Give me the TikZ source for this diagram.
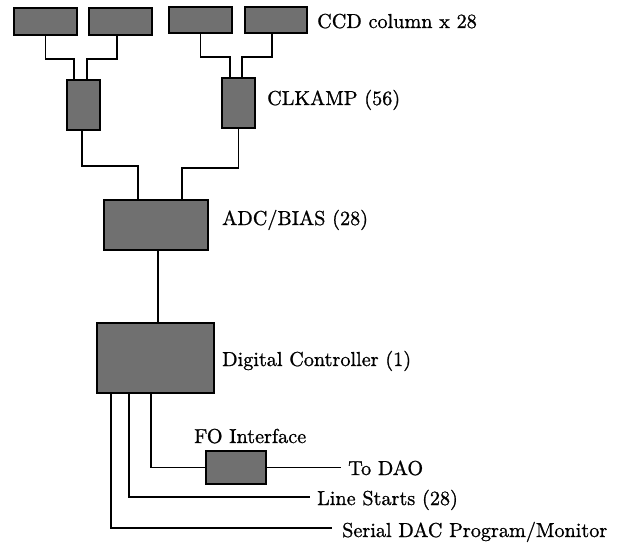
\documentclass[tikz,border=0pt]{standalone}
\usepackage{fontspec}
\newfontfamily\lmf{lmroman10-regular.otf}[FakeBold=1.0]
\definecolor{boxgray}{RGB}{112,112,112}
\begin{document}
\begin{tikzpicture}[x=1pt,y=-1pt,
  blk/.style={draw=black,line width=1.7pt,fill=boxgray,inner sep=0,outer sep=0},
  wire/.style={draw=black,line width=1.6pt},
  lbl/.style={anchor=base west,inner sep=0,font=\lmf\fontsize{20.2}{24}\selectfont}]
\useasboundingbox (0,0) rectangle (643,543);
% CCD columns
\node[blk,minimum width=63pt,minimum height=27pt] (c1) at (45.5,21.5) {};
\node[blk,minimum width=63pt,minimum height=27pt] (c2) at (120.5,21.5) {};
\node[blk,minimum width=63pt,minimum height=26pt] (c3) at (200.5,20) {};
\node[blk,minimum width=62pt,minimum height=26pt] (c4) at (276,20) {};
% CLKAMPs
\node[blk,minimum width=33pt,minimum height=50pt] (k1) at (83.5,105) {};
\node[blk,minimum width=33pt,minimum height=50pt] (k2) at (238.5,103) {};
% ADC / Digital controller / FO
\node[blk,minimum width=104pt,minimum height=50pt] (adc) at (156,225) {};
\node[blk,minimum width=117pt,minimum height=70pt] (dc) at (155.5,358) {};
\node[blk,minimum width=60pt,minimum height=33pt] (fo) at (236,467.5) {};
% labels
\node[lbl] (ccdl) at (317,28) {CCD column x 28};
\node[lbl] (clkl) at (267,105) {CLKAMP (56)};
\node[lbl] (adcl) at (222,225) {ADC/BIAS (28)};
\node[lbl] (dcl) at (222,366) {Digital Controller (1)};
\node[lbl] (fol) at (194,443) {FO Interface};
\node[lbl] (daol) at (348,475) {To DAO};
\node[lbl] (lsl) at (317,505) {Line Starts (28)};
\node[lbl] (srl) at (342,537) {Serial DAC Program/Monitor};
% free ends
\coordinate (daoend) at (341,467.5);
\coordinate (lsend) at (310,497);
\coordinate (srend) at (332,528);
% connectors
\draw[wire] (c1.south) -- ++(0,24) -| ([xshift=-9.5pt]k1.north);
\draw[wire] ([xshift=-3.5pt]c2.south) -- ++(0,24) -| ([xshift=3.5pt]k1.north);
\draw[wire] (c3.south) -- ++(0,24) -| ([xshift=-8.5pt]k2.north);
\draw[wire] ([xshift=-4pt]c4.south) -- ++(0,24) -| ([xshift=3.5pt]k2.north);
\draw[wire] ([xshift=-1.5pt]k1.south) -- ++(0,36) -| ([xshift=-18pt]adc.north);
\draw[wire] (k2.south) -- ++(0,40) -| ([xshift=26pt]adc.north);
\draw[wire] ([xshift=2pt]adc.south) -- ([xshift=2pt]adc.south |- dc.north);
\draw[wire] ([xshift=-4.5pt]dc.south) |- (fo.west);
\draw[wire] (fo.east) -- (daoend);
\draw[wire] ([xshift=-26.5pt]dc.south) |- (lsend);
\draw[wire] ([xshift=-44.5pt]dc.south) |- (srend);
\end{tikzpicture}
\end{document}
